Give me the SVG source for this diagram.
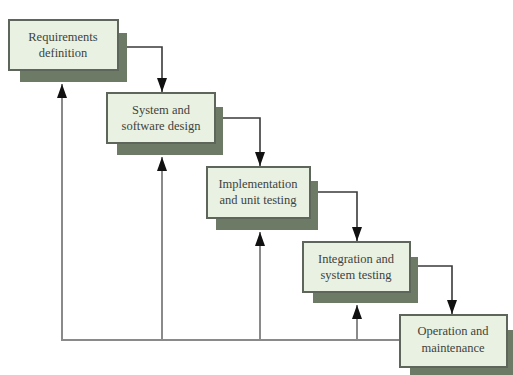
<svg xmlns="http://www.w3.org/2000/svg" width="513" height="375" viewBox="0 0 513 375">
<defs>
<style>
.box{fill:#e9f1e3;stroke:#5e655a;stroke-width:2}
.sh{fill:#6d7a66}
.t{font-family:"Liberation Serif","Times New Roman",serif;font-size:12.5px;fill:#3e433c;text-anchor:middle}
.fw{fill:none;stroke:#3a3a3a;stroke-width:1.6}
.fb{fill:none;stroke:#8a8a8a;stroke-width:2}
</style>
<marker id="ah" viewBox="0 0 14 10" refX="14" refY="5" markerWidth="14" markerHeight="10" markerUnits="userSpaceOnUse" orient="auto">
<path d="M0,0 L14,5 L0,10 z" fill="#111"/>
</marker>
</defs>
<rect width="513" height="375" fill="#fff"/>
<g id="connectors">
<path class="fw" d="M118,47 H162 V92" marker-end="url(#ah)"/>
<path class="fw" d="M215,118 H260 V166" marker-end="url(#ah)"/>
<path class="fw" d="M310,192 H357 V241" marker-end="url(#ah)"/>
<path class="fw" d="M410,266 H452 V314" marker-end="url(#ah)"/>
<path class="fb" d="M400,340 H62 V84" marker-end="url(#ah)"/>
<path class="fb" d="M162,340 V157" marker-end="url(#ah)"/>
<path class="fb" d="M260,340 V232" marker-end="url(#ah)"/>
<path class="fb" d="M357,340 V305" marker-end="url(#ah)"/>
</g>
<g id="n1">
<rect class="sh" x="20" y="33" width="107" height="49"/>
<rect class="box" x="9" y="20" width="109" height="50"/>
<text class="t" x="63" y="41">Requirements</text>
<text class="t" x="63" y="57">definition</text>
</g>
<g id="n2">
<rect class="sh" x="117" y="107" width="106" height="48"/>
<rect class="box" x="107" y="93" width="108" height="50"/>
<text class="t" x="161" y="114">System and</text>
<text class="t" x="161" y="130">software design</text>
</g>
<g id="n3">
<rect class="sh" x="216" y="181" width="102" height="49"/>
<rect class="box" x="207" y="167" width="103" height="51"/>
<text class="t" x="258" y="188">Implementation</text>
<text class="t" x="258" y="204">and unit testing</text>
</g>
<g id="n4">
<rect class="sh" x="313" y="257" width="105" height="46"/>
<rect class="box" x="303" y="242" width="107" height="50"/>
<text class="t" x="356" y="263">Integration and</text>
<text class="t" x="356" y="279">system testing</text>
</g>
<g id="n5">
<rect class="sh" x="410" y="330" width="110" height="50"/>
<rect class="box" x="400" y="315" width="107" height="52"/>
<text class="t" x="453" y="335">Operation and</text>
<text class="t" x="453" y="352">maintenance</text>
</g>
</svg>
